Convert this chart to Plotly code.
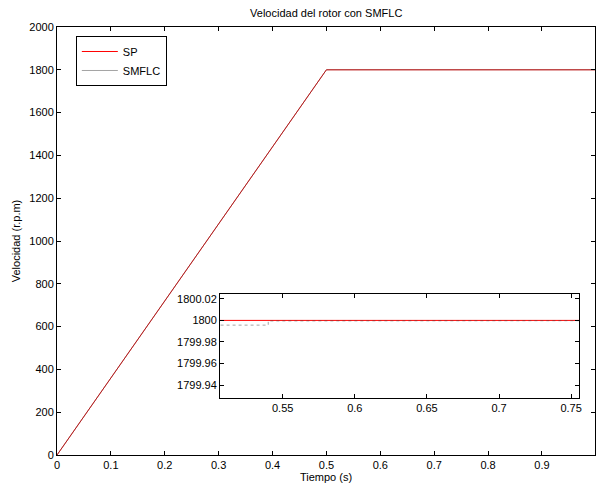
import plotly.graph_objects as go

# Data
t_sp = [0.0, 0.5, 1.0]
v_sp = [0.0, 1800.0, 1800.0]

t_smflc = [0.0, 0.5, 0.5066, 0.54, 0.54, 0.58, 0.58, 1.0]
v_smflc = [0.0, 1799.9956, 1799.9956, 1799.9956, 1799.9995, 1799.9995, 1800.0, 1800.0]

x_ticks_main = [0, 0.1, 0.2, 0.3, 0.4, 0.5, 0.6, 0.7, 0.8, 0.9, 1.0]
y_ticks_main = [0, 200, 400, 600, 800, 1000, 1200, 1400, 1600, 1800, 2000]
x_ticks_inset = [0.55, 0.6, 0.65, 0.7, 0.75]
y_ticks_inset = [1799.94, 1799.96, 1799.98, 1800.0, 1800.02]
y_ticktext_inset = ["1799.94", "1799.96", "1799.98", "1800", "1800.02"]

FONT = "Liberation Sans, Arial, sans-serif"
SP_COLOR = "#ff0000"
SM_COLOR = "rgba(70,70,70,0.55)"

fig = go.Figure()

# main axes
fig.add_trace(go.Scatter(x=t_sp, y=v_sp, mode="lines", name="SP",
                         line=dict(color=SP_COLOR, width=1), xaxis="x", yaxis="y"))
fig.add_trace(go.Scatter(x=t_smflc, y=v_smflc, mode="lines", name="SMFLC",
                         line=dict(color=SM_COLOR, width=0.9),
                         xaxis="x", yaxis="y"))
# inset
fig.add_trace(go.Scatter(x=t_sp, y=v_sp, mode="lines", showlegend=False,
                         line=dict(color=SP_COLOR, width=1), xaxis="x2", yaxis="y2"))
fig.add_trace(go.Scatter(x=t_smflc, y=v_smflc, mode="lines", showlegend=False,
                         line=dict(color=SM_COLOR, width=0.9, dash="dot"),
                         xaxis="x2", yaxis="y2"))

axis_common = dict(showgrid=False, zeroline=False, showline=True, linecolor="black",
                   linewidth=1, ticks="inside", ticklen=4, tickcolor="black",
                   mirror="ticks", tickfont=dict(size=11, color="black", family=FONT))

fig.update_layout(
    width=598, height=490,
    margin=dict(l=57, r=0, t=27, b=35),
    paper_bgcolor="white", plot_bgcolor="white",
    font=dict(family=FONT, size=11, color="black"),
    title=dict(text="Velocidad del rotor con SMFLC", x=0.5455, xanchor="center",
               y=1 - 13 / 490, yanchor="middle", font=dict(size=11, family=FONT)),
    xaxis=dict(domain=[0, 1], range=[0, 0.9985], tickvals=x_ticks_main,
               ticktext=[("%g" % v) for v in x_ticks_main],
               title=dict(text="Tiempo (s)", standoff=2, font=dict(size=11)), **axis_common),
    yaxis=dict(domain=[0, 1], range=[0, 2000], tickvals=y_ticks_main,
               title=dict(text="Velocidad (r.p.m)", standoff=6, font=dict(size=11)), **axis_common),
    xaxis2=dict(domain=[0.3031, 0.9704], range=[0.5066, 0.7555], anchor="y2",
                tickvals=x_ticks_inset, ticktext=[("%g" % v) for v in x_ticks_inset],
                **axis_common),
    yaxis2=dict(domain=[0.1332, 0.3762], range=[1799.928, 1800.0245], anchor="x2",
                tickvals=y_ticks_inset, ticktext=y_ticktext_inset, **axis_common),
    legend=dict(x=0.035, y=0.979, xanchor="left", yanchor="top",
                bgcolor="white", bordercolor="black", borderwidth=1,
                font=dict(size=11, family=FONT), tracegroupgap=0,
                itemwidth=36),
    showlegend=True,
)

fig.write_html("out.html")
